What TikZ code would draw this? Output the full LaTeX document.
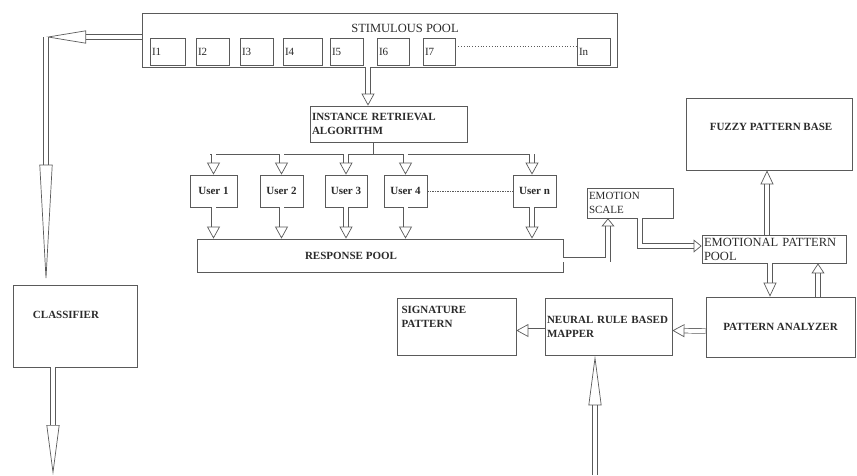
\documentclass[tikz,border=0pt]{standalone}
\usepackage{fontspec}
\setmainfont{Liberation Serif}
\usepackage{tikz}
\usetikzlibrary{arrows.meta,calc}

\definecolor{edge}{HTML}{5A5A5A}
\definecolor{ink}{HTML}{2A2A2A}

\begin{document}
\begin{tikzpicture}[
  x=1pt, y=-1pt,
  font=\fontsize{11}{14}\selectfont, text=ink,
  box/.style={draw=edge, line width=0.8pt, inner sep=2pt},
  lbox/.style={box, align=left},
  bold/.style={font=\fontsize{11}{14}\selectfont\bfseries},
  wide/.style={font=\fontsize{12.5}{14}\selectfont},
  ln/.style={draw=edge, line width=0.8pt},
  arr/.style={draw=edge, line width=0.7pt, double=white, double distance=4pt, -{Triangle[open, length=#1, width=13pt]}},
  arr/.default=12pt
]
\useasboundingbox (0,0) rectangle (857,475);

\node[box, minimum width=475pt, minimum height=54pt] (stim) at (379.5,40) {};
\node[wide] (stimlbl) at (405,28) {STIMULOUS POOL};
\node[lbox, text width=31pt, minimum height=27pt] (i1) at (167.5,51.5) {I1};
\node[lbox, text width=29pt, minimum height=27pt] (i2) at (212.5,51.5) {I2};
\node[lbox, text width=29pt, minimum height=27pt] (i3) at (256.5,51.5) {I3};
\node[lbox, text width=35pt, minimum height=27pt] (i4) at (302.5,51.5) {I4};
\node[lbox, text width=29pt, minimum height=27pt] (i5) at (346.5,51.5) {I5};
\node[lbox, text width=28pt, minimum height=27pt] (i6) at (393,51.5) {I6};
\node[lbox, text width=28pt, minimum height=27pt] (i7) at (439,51.5) {I7};
\node[lbox, text width=29pt, minimum height=27pt] (iN) at (593.5,51.5) {In};
\draw[ln, dotted] ([yshift=5pt]i7.east) -- ([yshift=5pt]iN.west);

\node[lbox, bold, text width=153pt, minimum height=36pt] (ira) at (388.5,124) {INSTANCE RETRIEVAL\\ALGORITHM};
\coordinate (busl) at (210,154);
\coordinate (busr) at (532,154);

\node[box, bold, minimum width=47pt, minimum height=32pt] (u1) at (213.5,191) {User 1};
\node[box, bold, minimum width=43pt, minimum height=32pt] (u2) at (281.5,191) {User 2};
\node[box, bold, minimum width=42pt, minimum height=32pt] (u3) at (346,191) {User 3};
\node[box, bold, minimum width=43pt, minimum height=32pt] (u4) at (405.5,191) {User 4};
\node[box, bold, minimum width=43pt, minimum height=32pt] (un) at (534.5,191) {User n};
\draw[ln, dash pattern=on 1.5pt off 1pt] (u4.east) -- (un.west);

\node[box, minimum width=366pt, minimum height=33pt] (resp) at (380,255.5) {};
\node[bold] (resplbl) at (351,255.5) {RESPONSE POOL};

\node[lbox, text width=82pt, minimum height=30pt] (emo) at (630,203) {EMOTION\\SCALE};
\node[box, minimum width=166pt, minimum height=72pt] (fuzzy) at (769,134) {};
\node[bold] (fuzzylbl) at (771,127) {FUZZY PATTERN BASE};
\node[lbox, wide, text width=140pt, minimum height=28pt] (epp) at (774,249) {EMOTIONAL PATTERN\\POOL};
\node[box, bold, minimum width=149pt, minimum height=60pt] (pa) at (780.5,327) {PATTERN ANALYZER};
\node[lbox, bold, text width=123pt, minimum height=57pt] (nrm) at (608.5,326.5) {NEURAL RULE BASED\\MAPPER};
\node[box, minimum width=119pt, minimum height=57pt] (sig) at (456.5,326.5) {};
\node[bold, align=left, anchor=north west] (siglbl) at (398,303) {SIGNATURE\\PATTERN};
\node[box, minimum width=124pt, minimum height=82pt] (clf) at (75,326) {};
\node[bold] (clflbl) at (66,315) {CLASSIFIER};

\coordinate (corner) at (46,37);
\coordinate (clfout) at (53,475);
\coordinate (nrmin) at (595,475);

\draw[arr] ([xshift=-11.5pt]stim.south) -- ([xshift=-11.5pt]stim.south |- ira.north);
\draw[ln] ([xshift=-15.5pt]ira.south) -- ([xshift=-15.5pt]ira.south |- busl);
\draw[ln] (busl) -- (busr);
\draw[arr] (u1.north |- busl) -- (u1.north);
\draw[arr] (u2.north |- busl) -- (u2.north);
\draw[arr] (u3.north |- busl) -- (u3.north);
\draw[arr] (u4.north |- busl) -- (u4.north);
\draw[arr] (busr) -- (busr |- un.north);
\draw[arr] (u1.south) -- (u1.south |- resp.north);
\draw[arr] (u2.south) -- (u2.south |- resp.north);
\draw[arr] (u3.south) -- (u3.south |- resp.north);
\draw[arr] (u4.south) -- (u4.south |- resp.north);
\draw[arr] (busr |- un.south) -- (busr |- resp.north);

\draw[arr=8pt] ([yshift=-4pt]resp.east) -| ([xshift=-22pt]emo.south);
\draw[arr=8pt] ([xshift=10pt]emo.south) |- ([yshift=3pt]epp.west);
\draw[arr=14pt] ([xshift=-7pt]epp.north) -- ([xshift=-7pt]epp.north |- fuzzy.south);
\draw[arr=14pt] ([xshift=-4pt]epp.south) -- ([xshift=-4pt]epp.south |- pa.north);
\draw[arr=10pt] ([xshift=37.5pt]pa.north) -- ([xshift=37.5pt]pa.north |- epp.south);
\draw[arr] ([yshift=-4pt]pa.west) -- ([yshift=-4pt]nrm.east);
\draw[arr] ([yshift=-4pt]nrm.west) -- ([yshift=-4pt]sig.east);
\draw[arr=50pt] (nrmin) -- (nrmin |- nrm.south);

\draw[arr=40pt] (stim.west |- corner) -- (corner);
\draw[arr=120pt] (corner) -- (corner |- clf.north);
\draw[arr=50pt] (clf.south -| clfout) -- (clfout);
\end{tikzpicture}
\end{document}
